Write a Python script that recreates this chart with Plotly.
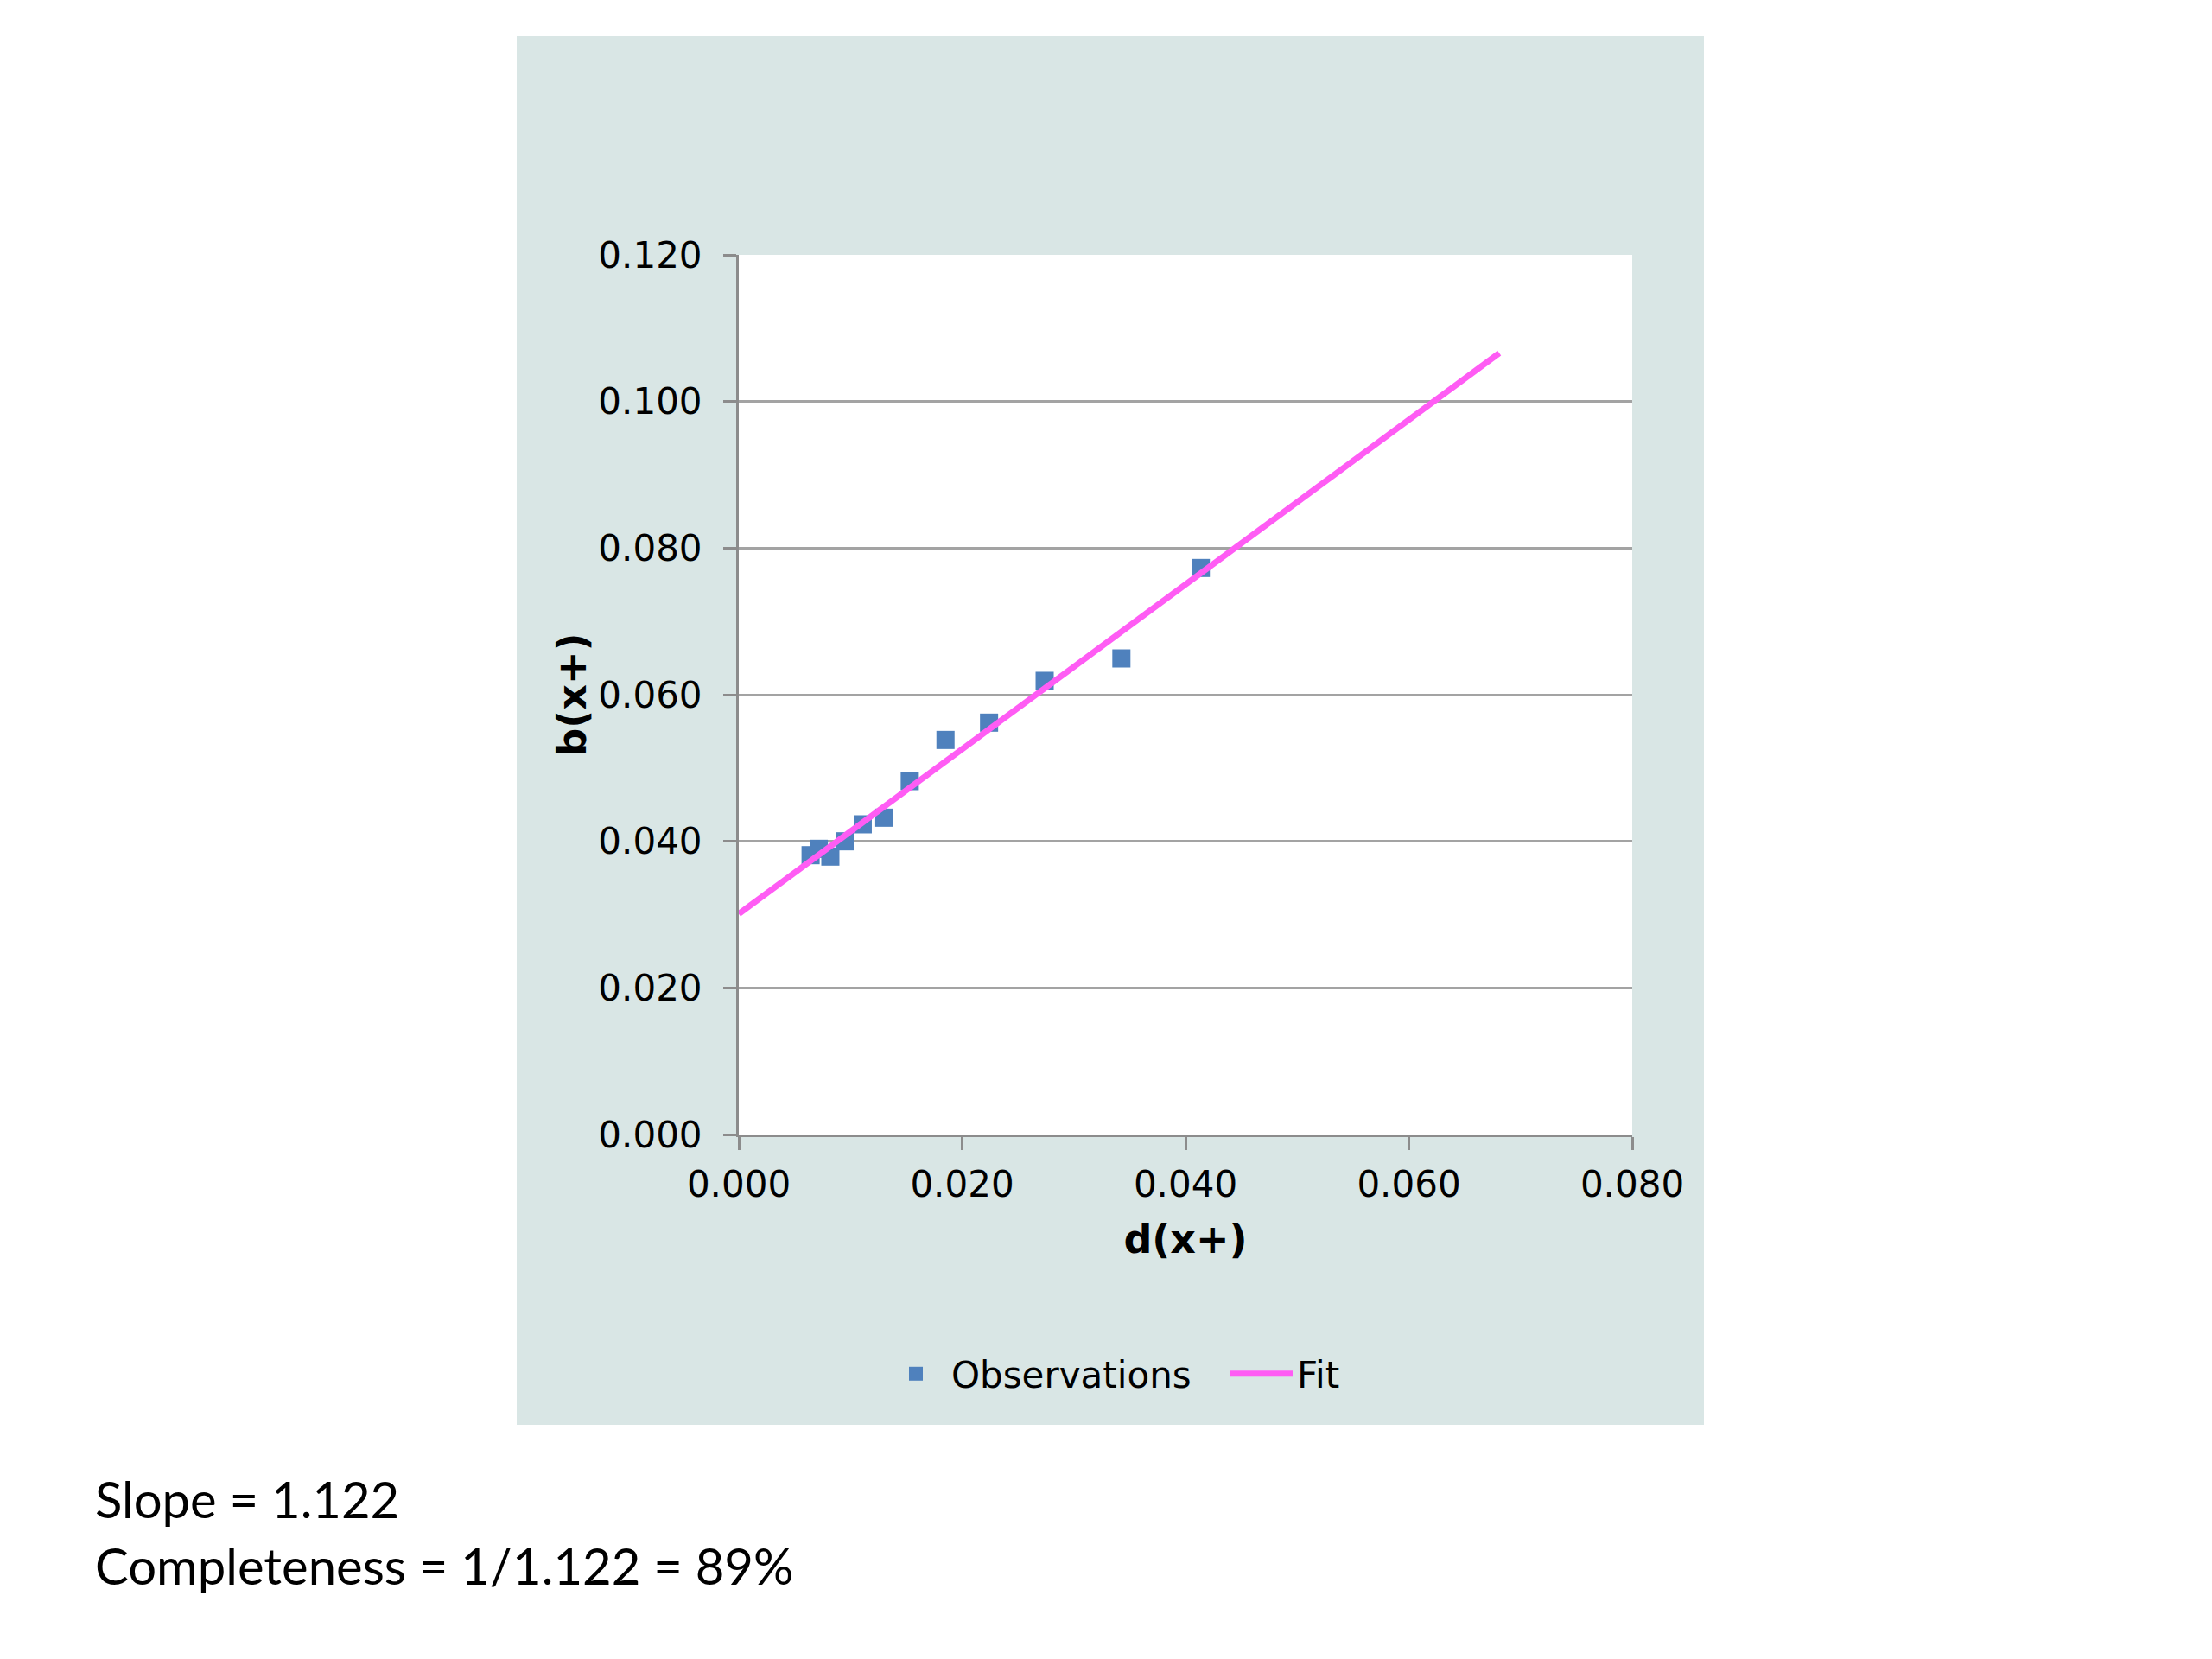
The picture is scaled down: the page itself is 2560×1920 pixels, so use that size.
import plotly.graph_objects as go

# ---- data ----
obs_x = [0.00643, 0.00717, 0.00820, 0.00948, 0.01110, 0.01303, 0.01531,
         0.01851, 0.02241, 0.02739, 0.03426, 0.04137]
obs_y = [0.03811, 0.03898, 0.03792, 0.04000, 0.04232, 0.04322, 0.04821,
         0.05383, 0.05619, 0.06189, 0.06495, 0.07729]
fit_x = [0.0, 0.0681]
fit_y = [0.0301, 0.1066]

x_ticks = [0.0, 0.02, 0.04, 0.06, 0.08]
y_ticks = [0.0, 0.02, 0.04, 0.06, 0.08, 0.10, 0.12]
x_title = "d(x+)"
y_title = "b(x+)"
note_lines = ["Slope = 1.122", "Completeness = 1/1.122 = 89%"]

W, H = 2560, 1920
OFF = 8  # page body margin
L, R, T, B = 855, 1889, 295, 1313  # plot area in reference pixels


def px(xp):
    return (xp - L) / (R - L)


def py(yp):
    return (B - yp) / (B - T)


TICK_FONT = dict(family="DejaVu Sans", size=42, color="#000000")
TITLE_FONT = dict(family="DejaVu Sans", size=46, color="#000000", weight="bold")
PANEL = "#d9e6e5"
AXIS = "#8c8c8c"
GRID = "#a3a3a3"

fig = go.Figure()
fig.add_trace(go.Scatter(
    x=obs_x, y=obs_y, mode="markers", name="Observations",
    marker=dict(symbol="square", size=21, color="#4f81bd"),
))
fig.add_trace(go.Scatter(
    x=fit_x, y=fit_y, mode="lines", name="Fit",
    line=dict(color="#ff5cf4", width=7),
))

shapes = [
    dict(type="rect", xref="paper", yref="paper", layer="below",
         x0=px(598), x1=px(1972), y0=py(1649), y1=py(42),
         fillcolor=PANEL, line=dict(width=0)),
    dict(type="rect", xref="paper", yref="paper", layer="below",
         x0=0, x1=1, y0=0, y1=1,
         fillcolor="#ffffff", line=dict(width=0)),
]

annotations = [
    dict(text=note_lines[0], xref="paper", yref="paper", x=px(108), y=py(1734),
         xanchor="left", yanchor="middle", showarrow=False,
         font=dict(family="Lato", size=58, color="#000000")),
    dict(text=note_lines[1], xref="paper", yref="paper", x=px(108), y=py(1811),
         xanchor="left", yanchor="middle", showarrow=False,
         font=dict(family="Lato", size=58, color="#000000")),
]

fig.update_layout(
    width=W, height=H,
    margin=dict(l=L - OFF, r=W - R + OFF, t=T - OFF, b=H - B + OFF, pad=0),
    paper_bgcolor="#ffffff", plot_bgcolor="#ffffff",
    shapes=shapes, annotations=annotations,
    showlegend=True,
    legend=dict(orientation="h", x=px(1019), y=py(1590), xanchor="left",
                yanchor="middle", font=dict(family="DejaVu Sans", size=42, color="#000000"),
                bgcolor="rgba(0,0,0,0)", itemwidth=72, traceorder="normal",
                entrywidth=313, entrywidthmode="pixels"),
    xaxis=dict(range=[0, 0.08], tickvals=x_ticks, tickformat=".3f",
               showgrid=False, zeroline=False, showline=True, linecolor=AXIS, linewidth=3,
               ticks="outside", ticklen=15, tickwidth=3, tickcolor=AXIS,
               tickfont=TICK_FONT, ticklabelstandoff=4,
               title=dict(text=x_title, font=TITLE_FONT, standoff=24)),
    yaxis=dict(range=[0, 0.12], tickvals=y_ticks, tickformat=".3f",
               showgrid=True, gridcolor=GRID, gridwidth=3, zeroline=False,
               showline=True, linecolor=AXIS, linewidth=3,
               ticks="outside", ticklen=15, tickwidth=3, tickcolor=AXIS,
               tickfont=TICK_FONT, ticklabelstandoff=16,
               title=dict(text=y_title, font=TITLE_FONT, standoff=0)),
)

fig.write_html("out.html")
